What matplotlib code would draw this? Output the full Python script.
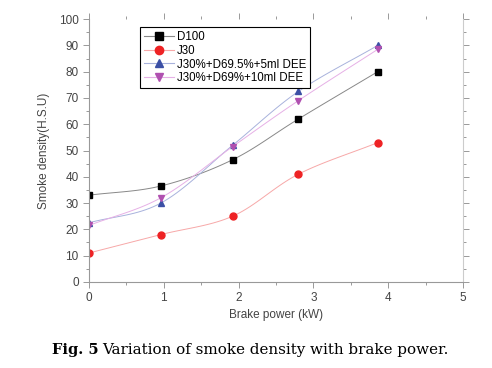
import matplotlib.pyplot as plt
from matplotlib.ticker import MultipleLocator
import numpy as np

# data
brake_power = [0, 0.96, 1.92, 2.8, 3.86]
d100 = [33, 36.5, 46.5, 62, 80]
j30 = [11, 18, 25, 41, 53]
j30_5ml = [22.5, 30, 52, 72.5, 90]
j30_10ml = [21.5, 32, 51.5, 69, 88.5]

labels = ["D100", "J30", "J30%+D69.5%+5ml DEE", "J30%+D69%+10ml DEE"]
markers = ["s", "o", "^", "v"]
mcolors = ["black", "#ee2224", "#3b4fa5", "#b050b0"]
lcolors = ["#888888", "#f7a8a8", "#a8b2dc", "#e6b0e6"]

plt.rcParams['font.family'] = ['Liberation Sans', 'DejaVu Sans']


def smooth(x, y, n=20):
    # catmull-rom curve through the points, only for the look of the line
    x = np.asarray(x, float)
    y = np.asarray(y, float)
    px = np.concatenate([[2 * x[0] - x[1]], x, [2 * x[-1] - x[-2]]])
    py = np.concatenate([[2 * y[0] - y[1]], y, [2 * y[-1] - y[-2]]])
    xs, ys = [], []
    t = np.linspace(0, 1, n)
    for i in range(1, len(px) - 2):
        for p, out in ((px, xs), (py, ys)):
            p0, p1, p2, p3 = p[i - 1], p[i], p[i + 1], p[i + 2]
            out.extend(0.5 * (2 * p1 + (-p0 + p2) * t
                              + (2 * p0 - 5 * p1 + 4 * p2 - p3) * t ** 2
                              + (-p0 + 3 * p1 - 3 * p2 + p3) * t ** 3))
    return xs, ys


fig = plt.figure(figsize=(4.92, 3.68), dpi=100)
ax = fig.add_axes([0.181, 0.234, 0.76, 0.714])

for ys, m, mc, lc in zip([d100, j30, j30_5ml, j30_10ml], markers, mcolors, lcolors):
    sx, sy = smooth(brake_power, ys)
    ax.plot(sx, sy, color=lc, linewidth=0.7)
    ax.plot(brake_power, ys, linestyle="none", marker=m, color=mc, markersize=5)

# legend entries: line + marker
handles = [plt.Line2D([], [], color=lc, marker=m, markerfacecolor=mc, markeredgecolor=mc,
                      markersize=6, linewidth=0.8)
           for m, mc, lc in zip(markers, mcolors, lcolors)]
leg = ax.legend(handles, labels, loc="upper left", bbox_to_anchor=(0.136, 0.97),
                borderaxespad=0, fontsize=8.3, handlelength=2.6, labelspacing=0.15,
                fancybox=False, framealpha=1, edgecolor="black", borderpad=0.35,
                handletextpad=0.25)
leg.get_frame().set_linewidth(0.8)

ax.set_xlim(0, 5)
ax.set_ylim(0, 100)
ax.xaxis.set_major_locator(MultipleLocator(1))
ax.xaxis.set_minor_locator(MultipleLocator(0.5))
ax.yaxis.set_major_locator(MultipleLocator(10))
ax.yaxis.set_minor_locator(MultipleLocator(5))
ax.tick_params(which="both", colors="#999999", labelcolor="#444444", labelsize=8.5,
               top=True, right=True)
ax.tick_params(which="major", length=4, width=0.7)
ax.tick_params(which="minor", length=2, width=0.7)
ax.tick_params(axis="x", which="both", pad=3)

for s in ["left", "bottom"]:
    ax.spines[s].set_color("#999999")
ax.spines["right"].set_color("#cccccc")
ax.spines["top"].set_visible(False)

ax.set_xlabel("Brake power (kW)", fontsize=8.5, color="#444444", labelpad=4)
ax.set_ylabel("Smoke density(H.S.U)", fontsize=8.5, color="#444444", labelpad=6)

fig.text(0.106, 0.049, "Fig. 5", fontsize=10.5, fontweight="bold", family="DejaVu Serif",
         ha="left", va="center")
fig.text(0.207, 0.049, "Variation of smoke density with brake power.", fontsize=10.9,
         family="DejaVu Serif", ha="left", va="center")

fig.savefig("out.png", dpi=100)
